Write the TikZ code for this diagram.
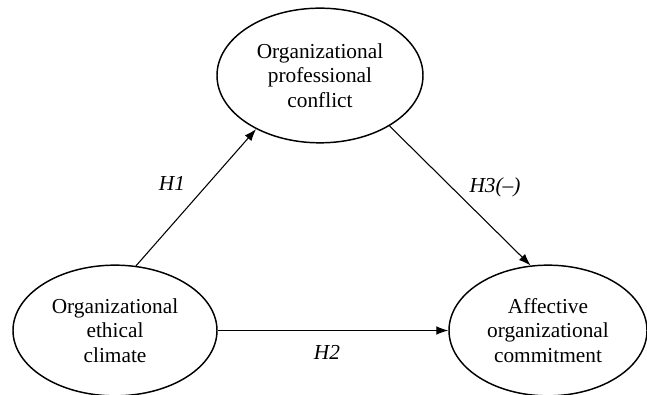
\documentclass[tikz,border=0pt]{standalone}
\usepackage{fontspec}
\setmainfont{Liberation Serif}
\usetikzlibrary{shapes.geometric,arrows.meta}
\begin{document}
\begin{tikzpicture}[x=0.75pt,y=-0.75pt,
  construct/.style={ellipse,draw,line width=1.1pt,inner sep=0pt,align=center,
    font=\fontsize{16}{18.3}\selectfont},
  path/.style={line width=0.8pt,-{Latex[length=9pt,width=6.5pt]}},
  hyp/.style={font=\fontsize{16}{18.3}\selectfont\itshape}]
\useasboundingbox (0,0) rectangle (647,395);
\node[construct,minimum width=154.5pt,minimum height=101pt] (conf) at (320,75.5) {Organizational\\professional\\conflict};
\node[construct,minimum width=153pt,minimum height=98pt] (eth) at (115,330.5) {Organizational\\ethical\\climate};
\node[construct,minimum width=148.5pt,minimum height=98pt] (aff) at (548,330.5) {Affective\\organizational\\commitment};
\draw[path] (eth.72) -- (conf.220);
\draw[path] (conf.324) -- (aff.105);
\draw[path] (eth.east) -- (aff.west);
\node[hyp] (h1) at (172,183) {H1};
\node[hyp] (h3) at (495,187) {H3(--)};
\node[hyp] (h2) at (327,352) {H2};
\end{tikzpicture}
\end{document}
